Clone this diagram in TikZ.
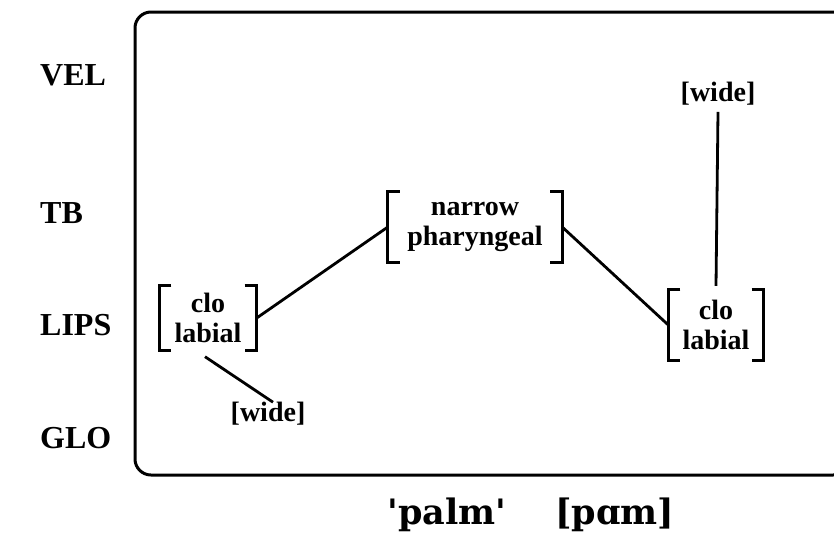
\documentclass[tikz,border=0pt]{standalone}
\usepackage{fontspec}
\setmainfont{Liberation Serif}
\newfontfamily\capfont{DejaVu Serif}
\begin{document}
\begin{tikzpicture}[x=1pt,y=-1pt,
  tier/.style={font=\bfseries\fontsize{32}{36}\selectfont, anchor=west, inner sep=0pt},
  gest/.style={font=\bfseries\fontsize{28}{30}\selectfont, align=center, inner sep=0pt},
  link/.style={line width=2.8pt},
  brk/.style={line width=3pt}]
  \useasboundingbox (0,0) rectangle (834,550);
  % frame (its right side runs past the page edge)
  \draw[line width=3pt, rounded corners=16pt] (135,12) rectangle (849,475);
  % tier labels
  \node[tier] (vel)  at (40,75)  {VEL};
  \node[tier] (tb)   at (40,213) {TB};
  \node[tier] (lips) at (40,325) {LIPS};
  \node[tier] (glo)  at (40,438) {GLO};
  % gestures
  \node[gest, minimum width=97pt, minimum height=65pt] (lab1) at (208,318) {clo\\labial};
  \node[gest, minimum width=174pt, minimum height=70pt] (phar) at (475,227) {narrow\\pharyngeal};
  \node[gest, minimum width=95pt, minimum height=70pt] (lab2) at (716,325) {clo\\labial};
  \node[gest] (vwide) at (718,94) {[wide]};
  \node[gest] (gwide) at (268,414) {[wide]};
  % brackets around gestures
  \foreach \n in {lab1,phar,lab2}{
    \draw[brk] ([xshift=12pt]\n.north west) -- (\n.north west) -- (\n.south west) -- ([xshift=12pt]\n.south west);
    \draw[brk] ([xshift=-12pt]\n.north east) -- (\n.north east) -- (\n.south east) -- ([xshift=-12pt]\n.south east);
  }
  % phasing links
  \draw[link] (lab1.east) -- (phar.west);
  \draw[link] (phar.east) -- (lab2.west);
  \draw[link] ([yshift=-6pt]vwide.south) -- ([yshift=4pt]lab2.north);
  \draw[link] ([shift={(-3pt,-6pt)}]lab1.south) -- ([shift={(5pt,0pt)}]gwide.north);
  % caption
  \node[font=\capfont\bfseries\fontsize{35}{38}\selectfont, inner sep=0pt] (cap) at (531,515) {\textquotesingle palm\textquotesingle\hspace{1.4em}[pɑm]};
\end{tikzpicture}
\end{document}
